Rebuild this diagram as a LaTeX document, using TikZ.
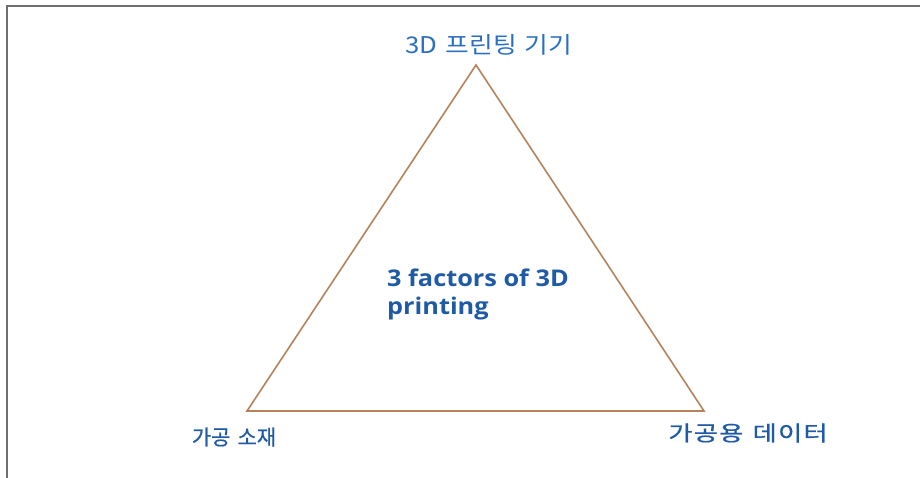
\documentclass[tikz,border=0pt]{standalone}
\usepackage{fontspec}
\newfontfamily\krwide[FakeStretch=1.12,WordSpace=1.4]{Noto Sans CJK KR}
\newfontfamily\krheavy[FakeBold=0.6,WordSpace=1.5]{Noto Sans CJK KR}
\newfontfamily\krheavywide[FakeBold=0.6,FakeStretch=1.25,LetterSpace=6,WordSpace=1.3]{Noto Sans CJK KR}
\newfontfamily\latinbold[FakeStretch=1.1]{Open Sans Bold}
\definecolor{trbrown}{HTML}{B5825A}
\definecolor{trblue}{HTML}{2B6FC2}
\definecolor{trnavy}{HTML}{1F5AA6}
\definecolor{framegray}{HTML}{6E6E6E}
\usetikzlibrary{positioning}
\tikzset{
  cornerlabel/.style={text=trnavy, inner sep=0pt},
  toplabel/.style={text=trblue, font=\krwide\fontsize{23}{26}\selectfont, inner sep=0pt},
  centerlabel/.style={text=trnavy, font=\latinbold\fontsize{23}{28}\selectfont, align=left, inner sep=0pt},
}
\begin{document}
\begin{tikzpicture}[x=1pt,y=-1pt]
  \useasboundingbox (0,0) rectangle (920,478);
  \draw[framegray, line width=1.5pt] (7,478) -- (7,6) -- (920,6);
  \coordinate (apex) at (476,65);
  \coordinate (left) at (247,411);
  \coordinate (right) at (704,411);
  \draw[trbrown, line width=1.6pt, line join=miter] (apex) -- (left) -- (right) -- cycle;
  \node[toplabel] (printer) at (489,45) {3D 프린팅 기기};
  \node[cornerlabel, font=\krheavy\fontsize{21}{24}\selectfont] (material) at (234,437) {가공 소재};
  \node[cornerlabel, font=\krheavywide\fontsize{21}{24}\selectfont] (data) at (748,433) {가공용 데이터};
  \node[centerlabel, anchor=north west] (factors) at (387,269) {3 factors of 3D\\printing};
\end{tikzpicture}
\end{document}
